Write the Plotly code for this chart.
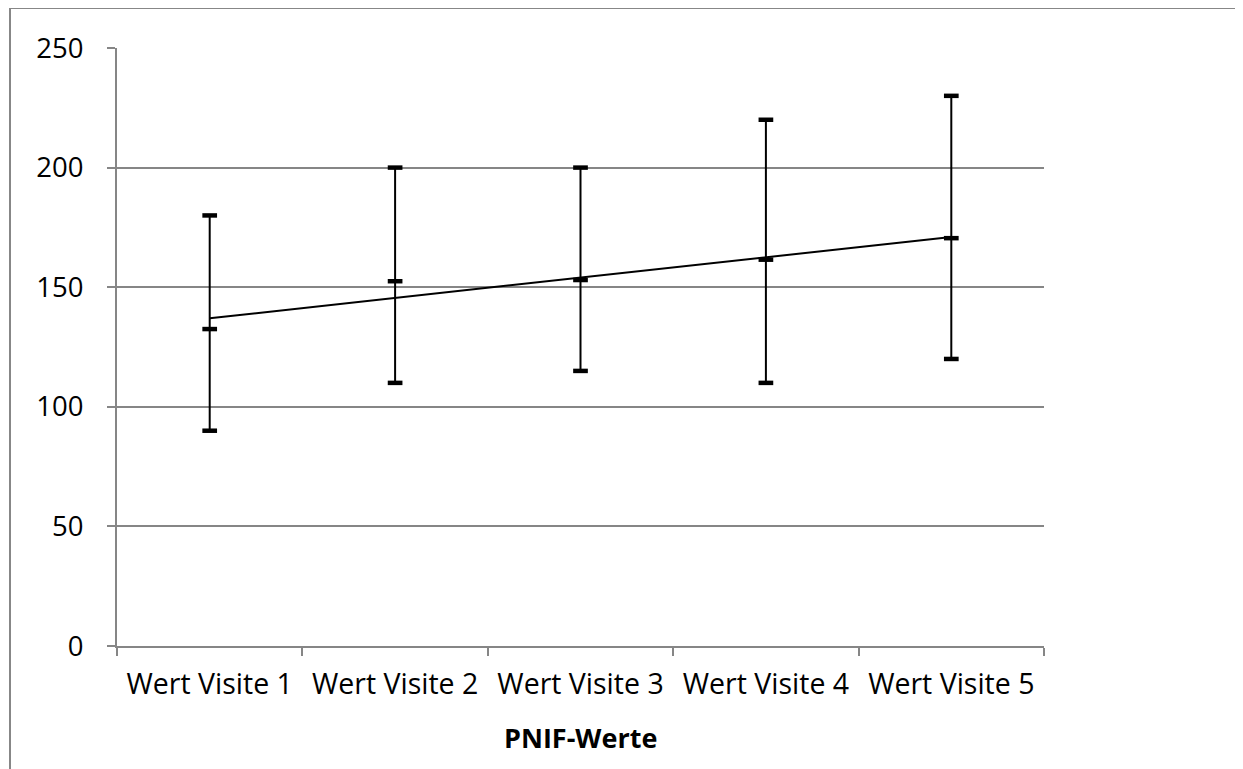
import numpy as np
import plotly.graph_objects as go

categories = ["Wert Visite 1", "Wert Visite 2", "Wert Visite 3", "Wert Visite 4", "Wert Visite 5"]
high = [180, 200, 200, 220, 230]
low = [90, 110, 115, 110, 120]
close = [132.5, 152.5, 153, 161.5, 170.5]
y_ticks = [0, 50, 100, 150, 200, 250]
x_title = "PNIF-Werte"

OFF = 8  # browser body margin
W, H = 1243 - OFF, 769 - OFF
L, T = 117 - OFF, 48 - OFF
R = 1243 - 1044
B = 769 - 646
pw, ph = W - L - R, H - T - B

def px(x):
    return (x - OFF - L) / pw

def py(y):
    return (H - B - (y - OFF)) / ph

idx = np.arange(len(categories))
slope, intercept = np.polyfit(idx + 1, close, 1)
trend = slope * (idx + 1) + intercept

fig = go.Figure()

vx, vy = [], []
for c, h, l in zip(categories, high, low):
    vx += [c, c, None]
    vy += [l, h, None]
fig.add_trace(go.Scatter(x=vx, y=vy, mode="lines", line=dict(color="black", width=2),
                         hoverinfo="skip", showlegend=False))

fig.add_trace(go.Scatter(x=categories, y=trend, mode="lines", line=dict(color="black", width=2),
                         showlegend=False))

dash = dict(symbol="line-ew", size=10.5, line=dict(color="black", width=4.5))
for series in (high, low, close):
    fig.add_trace(go.Scatter(x=categories, y=series, mode="markers", marker=dash, showlegend=False))

font_family = "Open Sans, Noto Sans, Liberation Sans, sans-serif"

fig.update_layout(
    width=W, height=H,
    margin=dict(l=L, r=R, t=T, b=B),
    paper_bgcolor="white", plot_bgcolor="white",
    font=dict(family=font_family, size=28, color="black"),
    xaxis=dict(type="category", categoryorder="array", categoryarray=categories,
               range=[-0.5, len(categories) - 0.5],
               showgrid=False, showline=True, linecolor="#868686", linewidth=2,
               ticks="outside", tickson="boundaries", ticklen=8, tickcolor="#868686", tickwidth=2,
               tickfont=dict(size=28.5), zeroline=False, ticklabelstandoff=12),
    yaxis=dict(range=[0, 250], tickvals=y_ticks, showgrid=True, gridcolor="#868686", gridwidth=1.5,
               showline=True, linecolor="#868686", linewidth=2,
               ticks="outside", ticklen=8, tickcolor="#868686", tickwidth=2,
               tickfont=dict(size=27.5), zeroline=False, ticklabelstandoff=18),
    annotations=[dict(text="<b>" + x_title + "</b>", x=0.5, y=py(737), xref="paper", yref="paper",
                      showarrow=False, font=dict(size=27), xanchor="center", yanchor="middle")],
    shapes=[dict(type="path", xref="paper", yref="paper",
                 path=f"M {px(10)} {py(790)} L {px(10)} {py(8)} L {px(1270)} {py(8)}",
                 line=dict(color="#878787", width=2))],
)

fig.write_html("out.html")
